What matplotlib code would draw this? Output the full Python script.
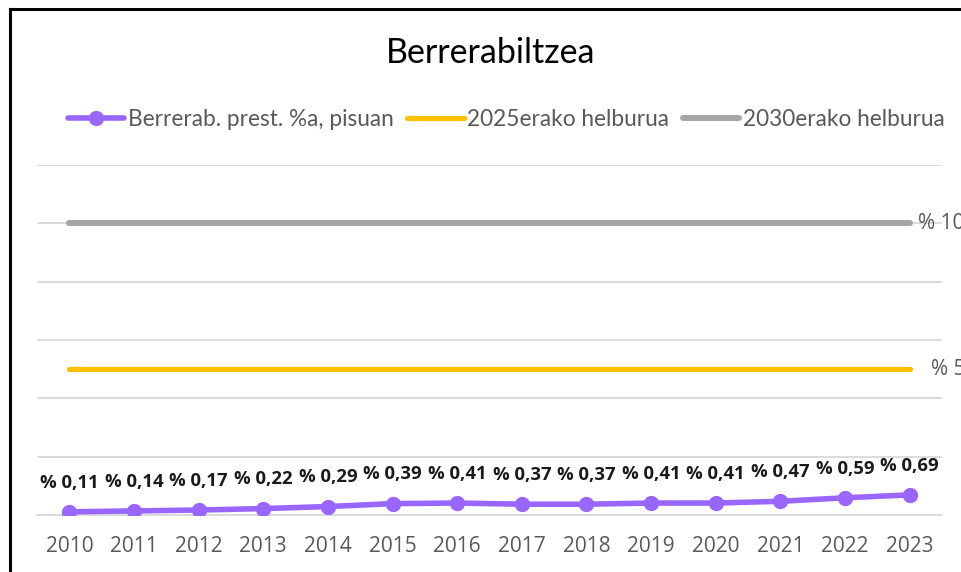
import matplotlib
matplotlib.use("Agg")
import matplotlib.pyplot as plt
from matplotlib.lines import Line2D

years = ["2010", "2011", "2012", "2013", "2014", "2015", "2016",
         "2017", "2018", "2019", "2020", "2021", "2022", "2023"]
reuse_pct = [0.11, 0.14, 0.17, 0.22, 0.29, 0.39, 0.41,
             0.37, 0.37, 0.41, 0.41, 0.47, 0.59, 0.69]
target_2025 = [5] * len(years)
target_2030 = [10] * len(years)
series_names = ["Berrerab. prest. %a, pisuan", "2025erako helburua", "2030erako helburua"]
title = "Berrerabiltzea"
yticks = [0, 2, 4, 6, 8, 10, 12]

PURPLE = "#9966FF"
YELLOW = "#FFC000"
GRAY = "#A5A5A5"
GRID = "#D9D9D9"
TXT = "#595959"

W, H = 962, 572
fig = plt.figure(figsize=(W / 100, H / 100), dpi=100)
ax = fig.add_axes([37 / W, 1 - 515 / H, (942 - 37) / W, (515 - 165) / H])

x = list(range(len(years)))
ax.plot(x, target_2030, color=GRAY, lw=4.3, solid_capstyle="round", zorder=3)
ax.plot(x, target_2025, color=YELLOW, lw=3.8, solid_capstyle="round", zorder=3)
ax.plot(x, reuse_pct, color=PURPLE, lw=4.0, marker="o", ms=10,
        solid_capstyle="round", zorder=4)

for xi, v in zip(x, reuse_pct):
    ax.annotate(f"% {v:.2f}".replace(".", ","), (xi, v), xytext=(0, 21),
                textcoords="offset points", ha="center", va="center",
                fontsize=13.3, fontweight="bold", color="#1a1a1a",
                family="Open Sans", annotation_clip=False)

ax.annotate(f"% {target_2030[-1]}", (x[-1], target_2030[-1]), xytext=(6, 0),
            textcoords="offset points", ha="left", va="center",
            fontsize=15, color=TXT, family="Open Sans", annotation_clip=False)
ax.annotate(f"% {target_2025[-1]}", (x[-1], target_2025[-1]), xytext=(15, 0),
            textcoords="offset points", ha="left", va="center",
            fontsize=15, color=TXT, family="Open Sans", annotation_clip=False)

ax.set_xlim(-0.5, len(years) - 0.5)
ax.set_ylim(0, 12)
ax.set_yticks(yticks)
ax.set_yticklabels([])
ax.tick_params(axis="y", length=0)
ax.grid(axis="y", color=GRID, lw=1.3, zorder=0)
ax.set_axisbelow(True)
ax.set_xticks(x)
ax.set_xticklabels(years, family="Open Sans", fontsize=15, color=TXT)
ax.tick_params(axis="x", length=0, pad=15)
for s in ax.spines.values():
    s.set_visible(False)
ax.spines["bottom"].set_visible(True)
ax.spines["bottom"].set_color(GRID)
ax.spines["bottom"].set_linewidth(1.3)

fig.text(491 / W, 1 - 53 / H, title, ha="center", va="center",
         fontsize=24.5, family="Lato", color="#000000")

handles = [
    Line2D([], [], color=PURPLE, lw=4.0, marker="o", ms=10, solid_capstyle="round"),
    Line2D([], [], color=YELLOW, lw=3.8, solid_capstyle="round"),
    Line2D([], [], color=GRAY, lw=4.3, solid_capstyle="round"),
]
fig.legend(handles, series_names, loc="center", bbox_to_anchor=(506 / W, 1 - 119 / H),
           ncol=3, frameon=False, handlelength=2.5, handletextpad=0.15,
           columnspacing=0.6, prop={"family": "Lato", "size": 16.3},
           labelcolor=TXT)

# outer border (left and top visible)
fig.add_artist(Line2D([9.5 / W, 9.5 / W], [0, 1 - 9 / H], transform=fig.transFigure,
                      color="black", lw=2.2))
fig.add_artist(Line2D([9.5 / W, 1], [1 - 9 / H, 1 - 9 / H], transform=fig.transFigure,
                      color="black", lw=2.2))

fig.savefig("out.png", dpi=100)
